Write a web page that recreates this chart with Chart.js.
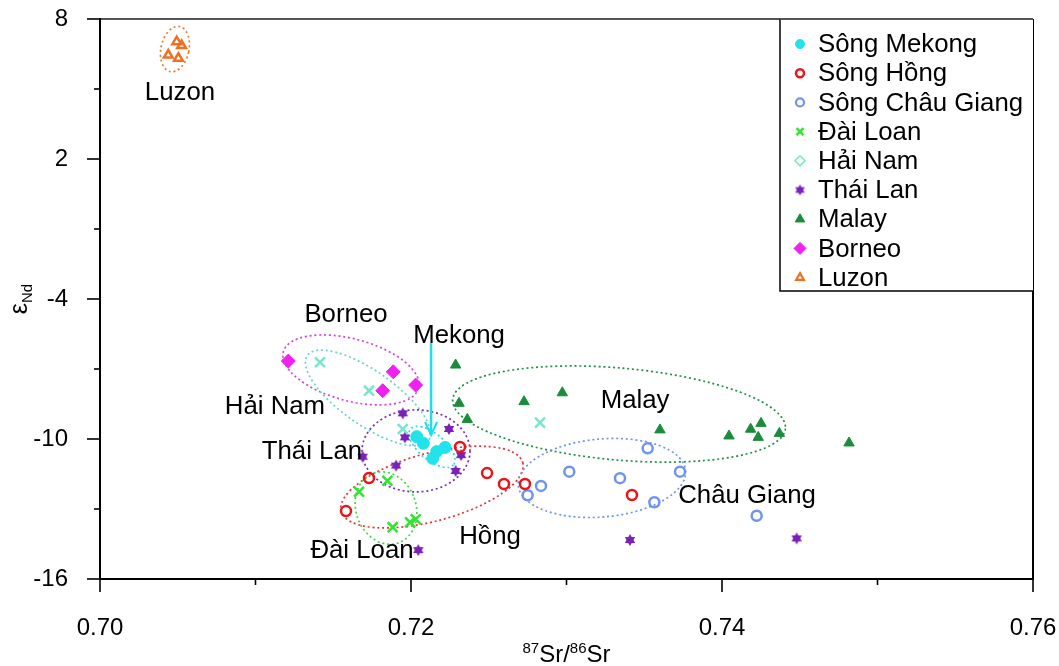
<!DOCTYPE html>
<html><head><meta charset="utf-8">
<script src="https://cdn.jsdelivr.net/npm/chart.js@4.4.0/dist/chart.umd.min.js"></script>
<style>html,body{margin:0;padding:0;background:#fff;overflow:hidden}#wrap{width:1059px;height:666px;position:relative}</style>
</head><body><div id="wrap"><canvas id="c" width="1059" height="666"></canvas></div>
<script>
// ---- data ----
const xTickLabels = ['0.70','0.72','0.74','0.76'];
const yTickLabels = ['8','2','-4','-10','-16'];
const seriesNames = ['Sông Mekong','Sông Hồng','Sông Châu Giang','Đài Loan','Hải Nam','Thái Lan','Malay','Borneo','Luzon'];

const mekongX = [0.72037,0.72079,0.72165,0.72219,0.72140];
const mekongY = [-9.90,-10.18,-10.54,-10.36,-10.83];
const hongX = [0.71582,0.71730,0.72315,0.72489,0.72598,0.72733,0.73421];
const hongY = [-13.09,-11.67,-10.34,-11.46,-11.93,-11.93,-12.40];
const chauX = [0.73522,0.73730,0.73344,0.73018,0.72836,0.72750,0.73565,0.74223];
const chauY = [-10.40,-11.40,-11.68,-11.40,-12.01,-12.41,-12.71,-13.29];
const daiX = [0.71848,0.71666,0.71882,0.71994,0.72030];
const daiY = [-11.79,-12.26,-13.78,-13.57,-13.44];
const haiX = [0.71415,0.71730,0.71947,0.72830];
const haiY = [-6.71,-7.93,-9.57,-9.30];
const thaiX = [0.71947,0.71961,0.72244,0.72322,0.72287,0.71904,0.71689,0.72047,0.73408,0.74480];
const thaiY = [-8.90,-9.93,-9.57,-10.69,-11.37,-11.14,-10.76,-14.76,-14.33,-14.26];
const malayX = [0.72287,0.72309,0.72362,0.72727,0.72973,0.73601,0.74045,0.74184,0.74251,0.74233,0.74369,0.74817];
const malayY = [-6.83,-8.47,-9.16,-8.40,-8.02,-9.61,-9.87,-9.58,-9.33,-9.93,-9.76,-10.17];
const borneoX = [0.71211,0.71886,0.71818,0.72030];
const borneoY = [-6.66,-7.12,-7.93,-7.69];
const luzonX = [0.70493,0.70525,0.70439,0.70504];
const luzonY = [7.03,6.86,6.46,6.32];

// region annotations (labels and outlines), positions in data units
const regionNames = ['Luzon','Borneo','Hải Nam','Mekong','Thái Lan','Đài Loan','Hồng','Malay','Châu Giang'];
const regionLabelX = [0.70514,0.71582,0.71125,0.72309,0.71363,0.71685,0.72508,0.73441,0.74161];
const regionLabelY = [4.83,-4.69,-8.63,-5.59,-10.56,-14.80,-14.20,-8.37,-12.44];
const outlineCX = [0.70482,0.71614,0.71723,0.72032,0.72135,0.72135,0.71839,0.73338,0.73228];
const outlineCY = [6.71,-7.04,-8.24,-10.51,-10.34,-12.06,-12.96,-8.93,-11.67];
const mekongArrowX = 0.72129, mekongArrowY = [-5.89,-9.83];

// ---- styles ----
const FONT = "'Liberation Sans', Arial, sans-serif";
const outlineStyle = [
  {rx:14, ry:23, rot:12, color:'#f07a30'},
  {rx:70, ry:31, rot:15, color:'#d83ee0'},
  {rx:74, ry:27, rot:35, color:'#5fd8c4'},
  {rx:54, ry:41, rot:0, color:'#7a2cc0'},
  {rx:28, ry:13, rot:40, color:'#33d8e8'},
  {rx:94, ry:34, rot:-15, color:'#e8323a'},
  {rx:30, ry:37, rot:-20, color:'#44d844'},
  {rx:167, ry:46, rot:5, color:'#1f8f44'},
  {rx:84, ry:39, rot:-5, color:'#7094e4'}
];

function hexagram(color, r){
  const s = Math.ceil(r*2+2), c = document.createElement('canvas');
  c.width = c.height = s;
  const g = c.getContext('2d'); g.fillStyle = color;
  const cx = s/2, cy = s/2;
  [-Math.PI/2, Math.PI/2].forEach(off=>{
    g.beginPath();
    for(let k=0;k<3;k++){const a=off+k*2*Math.PI/3;const px=cx+r*Math.cos(a),py=cy+r*Math.sin(a);k?g.lineTo(px,py):g.moveTo(px,py);}
    g.closePath(); g.fill();
  });
  return c;
}
const starImg = hexagram('#7a22b8', 6);
const starImgSmall = hexagram('#7a22b8', 5.5);

const pts = (xs, ys) => xs.map((x,i)=>({x, y: ys[i]}));
const transparent = 'rgba(0,0,0,0)';
const datasets = [
  {label:seriesNames[0], data:pts(mekongX,mekongY), pointStyle:'circle', pointRadius:6, backgroundColor:'#22e2ea', borderColor:'#22e2ea', borderWidth:1},
  {label:seriesNames[1], data:pts(hongX,hongY), pointStyle:'circle', pointRadius:5, backgroundColor:transparent, borderColor:'#e8141a', borderWidth:2.5},
  {label:seriesNames[2], data:pts(chauX,chauY), pointStyle:'circle', pointRadius:5, backgroundColor:transparent, borderColor:'#6f94ee', borderWidth:2.5},
  {label:seriesNames[3], data:pts(daiX,daiY), pointStyle:'crossRot', pointRadius:7, backgroundColor:'#2ee62e', borderColor:'#2ee62e', borderWidth:2.5},
  {label:seriesNames[4], data:pts(haiX,haiY), pointStyle:'crossRot', pointRadius:7, backgroundColor:'#78e6cc', borderColor:'#78e6cc', borderWidth:2.5},
  {label:seriesNames[5], data:pts(thaiX,thaiY), pointStyle:starImg, pointRadius:6, backgroundColor:'#7a22b8', borderColor:'#7a22b8'},
  {label:seriesNames[6], data:pts(malayX,malayY), pointStyle:'triangle', pointRadius:6, backgroundColor:'#1a8c3c', borderColor:'#1a8c3c', borderWidth:1},
  {label:seriesNames[7], data:pts(borneoX,borneoY), pointStyle:'rectRot', pointRadius:7, backgroundColor:'#f020f0', borderColor:'#f020f0', borderWidth:1},
  {label:seriesNames[8], data:pts(luzonX,luzonY), pointStyle:'triangle', pointRadius:5, backgroundColor:transparent, borderColor:'#f07020', borderWidth:2.5}
];
const legendMarks = [
  {pointStyle:'circle', radius:4.5, fill:'#22e2ea', stroke:'#22e2ea', borderWidth:1},
  {pointStyle:'circle', radius:4, fill:transparent, stroke:'#e8141a', borderWidth:2.5},
  {pointStyle:'circle', radius:4, fill:transparent, stroke:'#6f94ee', borderWidth:2.2},
  {pointStyle:'crossRot', radius:5, fill:transparent, stroke:'#2ee62e', borderWidth:2.5},
  {pointStyle:'rectRot', radius:5, fill:transparent, stroke:'#78e6cc', borderWidth:1.6},
  {image:starImgSmall},
  {pointStyle:'triangle', radius:5.5, fill:'#1a8c3c', stroke:'#1a8c3c', borderWidth:1},
  {pointStyle:'rectRot', radius:6, fill:'#f020f0', stroke:'#f020f0', borderWidth:1},
  {pointStyle:'triangle', radius:4.5, fill:transparent, stroke:'#f07020', borderWidth:2.2}
];

const deco = {
  id:'deco',
  beforeDatasetsDraw(chart){
    const {ctx, scales:{x, y}} = chart;
    outlineStyle.forEach((s,i)=>{
      ctx.save();
      ctx.strokeStyle = s.color; ctx.lineWidth = 1.7; ctx.setLineDash([2,2.8]);
      ctx.beginPath();
      ctx.ellipse(x.getPixelForValue(outlineCX[i]), y.getPixelForValue(outlineCY[i]), s.rx, s.ry, s.rot*Math.PI/180, 0, Math.PI*2);
      ctx.stroke(); ctx.restore();
    });
  },
  afterDatasetsDraw(chart){
    const {ctx, chartArea:a, scales:{x, y}} = chart;
    ctx.save();
    // region labels
    ctx.fillStyle = '#000'; ctx.font = '25.8px ' + FONT; ctx.textAlign = 'center'; ctx.textBaseline = 'middle';
    regionNames.forEach((n,i)=>ctx.fillText(n, x.getPixelForValue(regionLabelX[i]), y.getPixelForValue(regionLabelY[i])));
    // Mekong arrow
    const ax = x.getPixelForValue(mekongArrowX), ay0 = y.getPixelForValue(mekongArrowY[0]), ay1 = y.getPixelForValue(mekongArrowY[1]);
    ctx.strokeStyle = '#22dcea'; ctx.lineWidth = 2.5;
    ctx.beginPath(); ctx.moveTo(ax, ay0); ctx.lineTo(ax, ay1); ctx.stroke();
    ctx.lineWidth = 2;
    ctx.beginPath(); ctx.moveTo(ax-6, ay1-13); ctx.lineTo(ax, ay1); ctx.lineTo(ax+6, ay1-13); ctx.stroke();
    // frame
    ctx.lineCap = 'butt';
    ctx.strokeStyle = '#555'; ctx.lineWidth = 2;
    ctx.beginPath(); ctx.moveTo(a.left, a.top); ctx.lineTo(a.right, a.top); ctx.stroke();
    ctx.strokeStyle = '#000'; ctx.lineWidth = 2;
    ctx.beginPath(); ctx.moveTo(a.right, a.top); ctx.lineTo(a.right, a.bottom); ctx.stroke();
    ctx.beginPath(); ctx.moveTo(a.left, a.top-1); ctx.lineTo(a.left, a.bottom); ctx.lineTo(a.right+1, a.bottom); ctx.stroke();
    // tick marks
    ctx.lineWidth = 1.6;
    x.ticks.forEach(t=>{
      const px = x.getPixelForValue(t.value), len = t.label ? 13 : 6;
      ctx.beginPath(); ctx.moveTo(px, a.bottom); ctx.lineTo(px, a.bottom+len); ctx.stroke();
    });
    y.ticks.forEach(t=>{
      const py = y.getPixelForValue(t.value), len = t.label ? 13 : 6;
      ctx.beginPath(); ctx.moveTo(a.left, py); ctx.lineTo(a.left-len, py); ctx.stroke();
    });
    // axis titles
    const cx = (a.left + a.right)/2;
    const big = '24px ' + FONT, small = '15px ' + FONT;
    const parts = [['87',small,-9],['Sr',big,0],['/',big,0],['86',small,-9],['Sr',big,0]];
    let w = 0; parts.forEach(p=>{ctx.font=p[1]; w += ctx.measureText(p[0]).width;});
    let px = cx - w/2; ctx.textAlign='left'; ctx.textBaseline='alphabetic';
    parts.forEach(p=>{ctx.font=p[1]; ctx.fillText(p[0], px, 662 + p[2]); px += ctx.measureText(p[0]).width;});
    ctx.save();
    ctx.translate(27, (a.top + a.bottom)/2);
    ctx.rotate(-Math.PI/2);
    const yp = [['ε','25px '+FONT,0],['Nd','15px '+FONT,5]];
    w = 0; yp.forEach(p=>{ctx.font=p[1]; w += ctx.measureText(p[0]).width;});
    px = -w/2;
    yp.forEach(p=>{ctx.font=p[1]; ctx.fillText(p[0], px, p[2]); px += ctx.measureText(p[0]).width;});
    ctx.restore();
    // legend
    const L = {left:780, top:a.top, right:a.right, bottom:291};
    ctx.fillStyle = '#fff'; ctx.fillRect(L.left, L.top, L.right-L.left, L.bottom-L.top);
    ctx.strokeStyle = '#000'; ctx.lineWidth = 1.5;
    ctx.beginPath(); ctx.moveTo(L.left, L.top); ctx.lineTo(L.left, L.bottom); ctx.lineTo(L.right, L.bottom); ctx.stroke();
    ctx.strokeStyle = '#555'; ctx.lineWidth = 2;
    ctx.beginPath(); ctx.moveTo(L.left, L.top); ctx.lineTo(L.right, L.top); ctx.stroke();
    ctx.font = '25.8px ' + FONT; ctx.textBaseline = 'middle'; ctx.textAlign = 'left';
    chart.data.datasets.forEach((ds,i)=>{
      const ry = L.top + 25 + i*29.2, mx = L.left + 20;
      const m = legendMarks[i];
      if (m.image) { ctx.drawImage(m.image, mx - m.image.width/2, ry - m.image.height/2); }
      else {
        ctx.fillStyle = m.fill; ctx.strokeStyle = m.stroke; ctx.lineWidth = m.borderWidth;
        Chart.helpers.drawPoint(ctx, {pointStyle:m.pointStyle, radius:m.radius, rotation:0, borderWidth:m.borderWidth}, mx, ry);
      }
      ctx.fillStyle = '#000';
      ctx.fillText(ds.label, L.left + 38, ry + 1);
    });
    ctx.restore();
  }
};

new Chart(document.getElementById('c'), {
  type:'scatter',
  data:{datasets},
  options:{
    responsive:false, animation:false, devicePixelRatio:1,
    layout:{padding:{top:19, right:26, left:0, bottom:0}},
    plugins:{legend:{display:false}, tooltip:{enabled:false}},
    scales:{
      x:{type:'linear', min:0.70, max:0.76,
        border:{display:false},
        grid:{display:true, drawOnChartArea:false, drawTicks:true, tickLength:33, tickColor:transparent},
        ticks:{stepSize:0.01, padding:2, color:'#000', font:{family:FONT, size:24},
          callback:(v)=>{const s=Number(v).toFixed(2); return xTickLabels.includes(s)?s:'';}},
        afterFit:(s)=>{s.height = 87;}
      },
      y:{type:'linear', min:-16, max:8,
        border:{display:false},
        grid:{display:true, drawOnChartArea:false, drawTicks:true, tickLength:30, tickColor:transparent},
        ticks:{stepSize:3, padding:2, color:'#000', font:{family:FONT, size:24},
          callback:(v)=>{const s=String(Math.round(v)); return yTickLabels.includes(s)?s:'';}},
        afterFit:(s)=>{s.width = 100;}
      }
    }
  },
  plugins:[deco]
});
</script>
</body></html>
